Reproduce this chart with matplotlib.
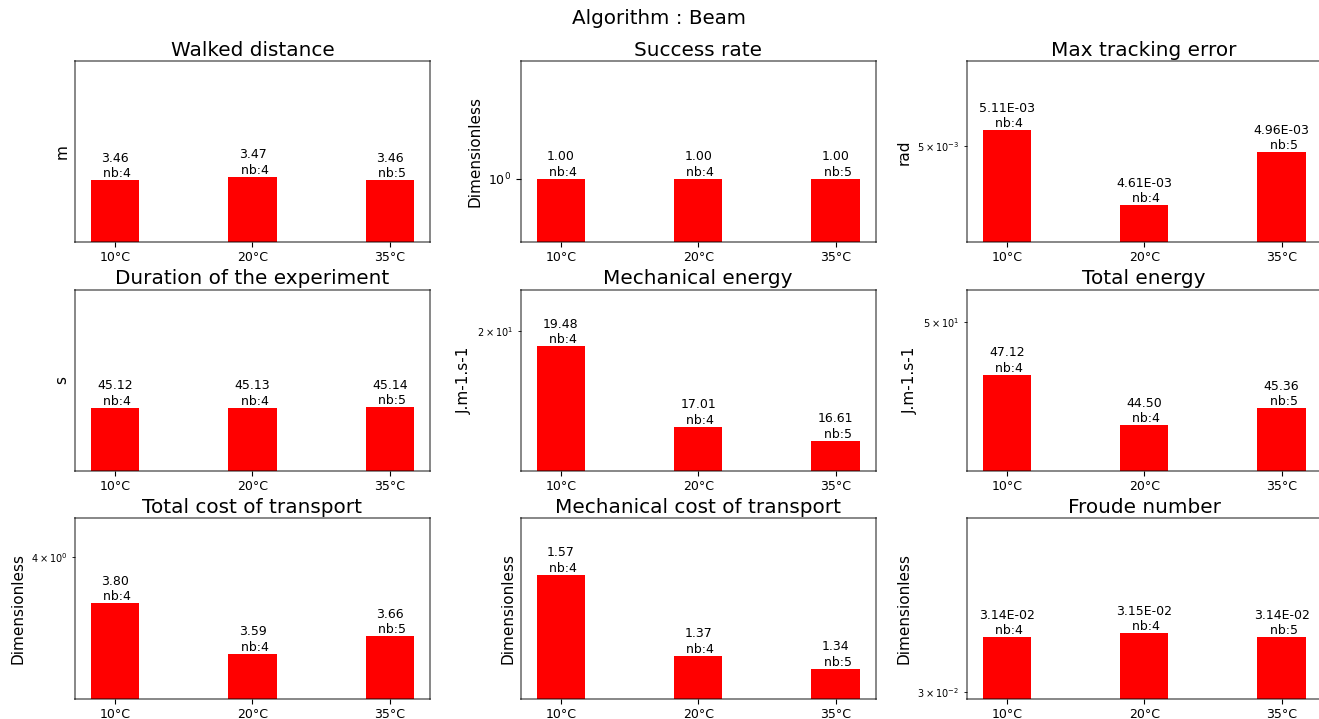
import numpy as np
import matplotlib
matplotlib.use("Agg")
import matplotlib.pyplot as plt
from matplotlib.ticker import FixedLocator, FixedFormatter

# Temperatures tested
conditions = ["10°C", "20°C", "35°C"]
trial_counts = [4, 4, 5]

titles = [
    "Walked distance", "Success rate", "Max tracking error",
    "Duration of the experiment", "Mechanical energy", "Total energy",
    "Total cost of transport", "Mechanical cost of transport", "Froude number",
]
units = [
    "m", "Dimensionless", "rad",
    "s", "J.m-1.s-1", "J.m-1.s-1",
    "Dimensionless", "Dimensionless", "Dimensionless",
]

walked_distance = [3.46, 3.47, 3.46]
success_rate = [1.00, 1.00, 1.00]
max_tracking_error = [5.11e-3, 4.61e-3, 4.96e-3]
duration = [45.12, 45.13, 45.14]
mechanical_energy = [19.48, 17.01, 16.61]
total_energy = [47.12, 44.50, 45.36]
total_cot = [3.80, 3.59, 3.66]
mechanical_cot = [1.57, 1.37, 1.34]
froude_number = [3.14e-2, 3.15e-2, 3.14e-2]

metrics = [
    walked_distance, success_rate, max_tracking_error,
    duration, mechanical_energy, total_energy,
    total_cot, mechanical_cot, froude_number,
]
sci_format = [False, False, True, False, False, False, False, False, True]

W, H = 1319, 719
fig = plt.figure(figsize=(W / 100, H / 100), dpi=100)
fig.suptitle("Algorithm : Beam", fontsize=14.3, y=1 - 18 / H, va="center")

ax_left = [75, 520.7, 966.7]
ax_bottom = [242.3, 471.0, 699.3]
ax_w, ax_h = 355, 181


def log_ticks(lo, hi):
    major, minor = [], []
    for e in range(int(np.floor(np.log10(lo))) - 1, int(np.ceil(np.log10(hi))) + 1):
        for k in range(1, 10):
            v = k * 10.0 ** e
            if lo <= v <= hi:
                (major if k == 1 else minor).append((v, k, e))
    return major, minor


x = np.arange(len(conditions))
for i, (vals, title, unit, sci) in enumerate(zip(metrics, titles, units, sci_format)):
    r, c = divmod(i, 3)
    ax = fig.add_axes([ax_left[c] / W, 1 - ax_bottom[r] / H, ax_w / W, ax_h / H])
    ax.set_yscale("log")
    ax.bar(x, vals, width=0.35, color="red")
    lo, hi = 0.95 * min(vals), 1.1 * max(vals)
    ax.set_ylim(lo, hi)
    ax.set_xticks(x)
    ax.set_xticklabels(conditions, fontsize=9)
    ax.tick_params(axis="x", pad=3)
    ax.set_title(title, fontsize=14.4, pad=4)
    ax.set_ylabel(unit, fontsize=11)

    major, minor = log_ticks(lo, hi)
    ax.yaxis.set_major_locator(FixedLocator([m[0] for m in major]))
    ax.yaxis.set_major_formatter(FixedFormatter(
        [r"$\mathdefault{10^{%d}}$" % m[2] for m in major]))
    ax.yaxis.set_minor_locator(FixedLocator([m[0] for m in minor]))
    ax.yaxis.set_minor_formatter(FixedFormatter(
        [r"$\mathdefault{%d\times10^{%d}}$" % (m[1], m[2]) for m in minor]))
    ax.tick_params(axis="y", which="major", labelsize=9)
    ax.tick_params(axis="y", which="minor", labelsize=7)

    for sp in ax.spines.values():
        sp.set_color("black")
        sp.set_alpha(0.55)
        sp.set_linewidth(1.2)

    for xi, v, n in zip(x, vals, trial_counts):
        txt = f"{v:.2E}" if sci else f"{v:.2f}"
        ax.text(xi, v, f"{txt}\n nb:{n}", ha="center", va="bottom",
                fontsize=9, linespacing=1.25)

fig.savefig("out.png", dpi=100)
